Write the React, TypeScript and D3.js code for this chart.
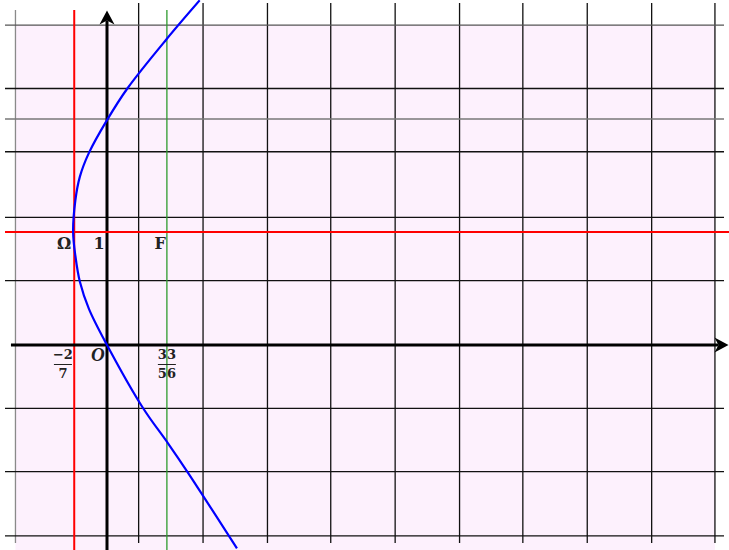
import React from 'react'
import * as d3 from 'd3'

const width = 729
const height = 550

// grid lines (math units)
const xGrid = [-0.81, 0.28, 0.85, 1.42, 1.98, 2.55, 3.12, 3.68, 4.25, 4.82, 5.38]
const yGrid = [2.83, 2.27, 2.0, 1.71, 1.13, 0.57, -0.56, -1.12, -1.69]

// parabola, points
const curveX = [0.82, 0.53, 0.18, 0, -0.16, -0.24, -0.28, -0.3, -0.28, -0.24, -0.16, 0, 0.32, 0.54, 0.71, 1.15]
const curveY = [3.05, 2.71, 2.27, 1.99, 1.7, 1.49, 1.28, 1.0, 0.79, 0.56, 0.32, 0, -0.56, -0.87, -1.12, -1.8]

// special lines
const vertexX = -0.29 // x = -2/7
const vertexY = 1
const focusX = 0.53 // x = 33/56

const pointLabels = [
    { text: 'Ω', x: -0.38, y: 0.9 },
    { text: '1', x: -0.07, y: 0.9 },
    { text: 'F', x: 0.47, y: 0.9 },
]
const fractions = [
    { num: '−2', den: '7', x: -0.39 },
    { num: '33', den: '56', x: 0.53 },
]

function App() {
    const x = d3.scaleLinear().domain([0, 1]).range([107, 220])
    const y = d3.scaleLinear().domain([0, 1]).range([345, 232])

    const pts = curveX.map((v, i) => [v, curveY[i]] as [number, number])
    const line = d3.line<[number, number]>()
        .x(d => x(d[0]))
        .y(d => y(d[1]))
        .curve(d3.curveCatmullRom.alpha(0.5))

    const [x0, x1] = [x(-0.85), x(5.5)]
    const [yb, yt] = [height, y(2.96)]

    const gridStroke = (i: number) => (i === 0 ? '#8a8a8a' : '#111')
    const yStroke = (v: number) => (v === 2.83 ? '#555' : v === 2.0 ? '#777' : '#111')

    const arrow = (tx: number, ty: number, angle: number) => (
        <path
            d="M0,0 L-14,-7.5 L-10,0 L-14,7.5 Z"
            fill="#000"
            transform={`translate(${tx},${ty}) rotate(${angle})`}
        />
    )

    const labelFont = '"DejaVu Serif", serif'

    return (
        <svg width={width} height={height} style={{ position: 'absolute', left: 0, top: 0, background: '#fff' }}>
            <rect x={x(-0.81)} y={y(2.83)} width={x(5.38) - x(-0.81)} height={height - y(2.83)} fill="#fdf1fd" />

            {xGrid.map((v, i) => (
                <line key={'gx' + i} x1={x(v)} x2={x(v)} y1={i === 0 ? 10 : 3} y2={543}
                    stroke={gridStroke(i)} strokeWidth={1.3} />
            ))}
            {yGrid.map((v, i) => (
                <line key={'gy' + i} x1={5} x2={724} y1={y(v)} y2={y(v)}
                    stroke={yStroke(v)} strokeWidth={1.3} />
            ))}

            <line x1={x(vertexX)} x2={x(vertexX)} y1={10} y2={height} stroke="#ff0000" strokeWidth={2} />
            <line x1={x(focusX)} x2={x(focusX)} y1={10} y2={height} stroke="#2e9a2e" strokeWidth={1.3} />

            {/* axes */}
            <line x1={x0} x2={x1 - 10} y1={y(0)} y2={y(0)} stroke="#000" strokeWidth={3} />
            {arrow(x1, y(0), 0)}
            <line x1={x(0)} x2={x(0)} y1={yb} y2={yt + 10} stroke="#000" strokeWidth={3} />
            {arrow(x(0), yt, -90)}

            <line x1={5} x2={729} y1={y(vertexY)} y2={y(vertexY)} stroke="#ff0000" strokeWidth={2} />

            <path d={line(pts) ?? ''} fill="none" stroke="#0000ff" strokeWidth={2.2} />

            {pointLabels.map(l => (
                <text key={l.text} x={x(l.x)} y={y(l.y) + 6} textAnchor="middle"
                    fontFamily={labelFont} fontWeight="bold" fontSize={16} fill="#222">{l.text}</text>
            ))}
            <text x={x(-0.08)} y={y(0) + 16} textAnchor="middle" fontFamily='"Liberation Serif", serif'
                fontStyle="italic" fontWeight="bold" fontSize={19} fill="#222">O</text>

            {fractions.map(f => (
                <g key={f.num} transform={`translate(${x(f.x)},${y(0)})`} fontFamily={labelFont}
                    fontWeight="bold" fontSize={13} fill="#222" textAnchor="middle">
                    <text y={14}>{f.num}</text>
                    <line x1={-9} x2={9} y1={19.5} y2={19.5} stroke="#222" strokeWidth={1} />
                    <text y={33}>{f.den}</text>
                </g>
            ))}
        </svg>
    )
}

export default App
